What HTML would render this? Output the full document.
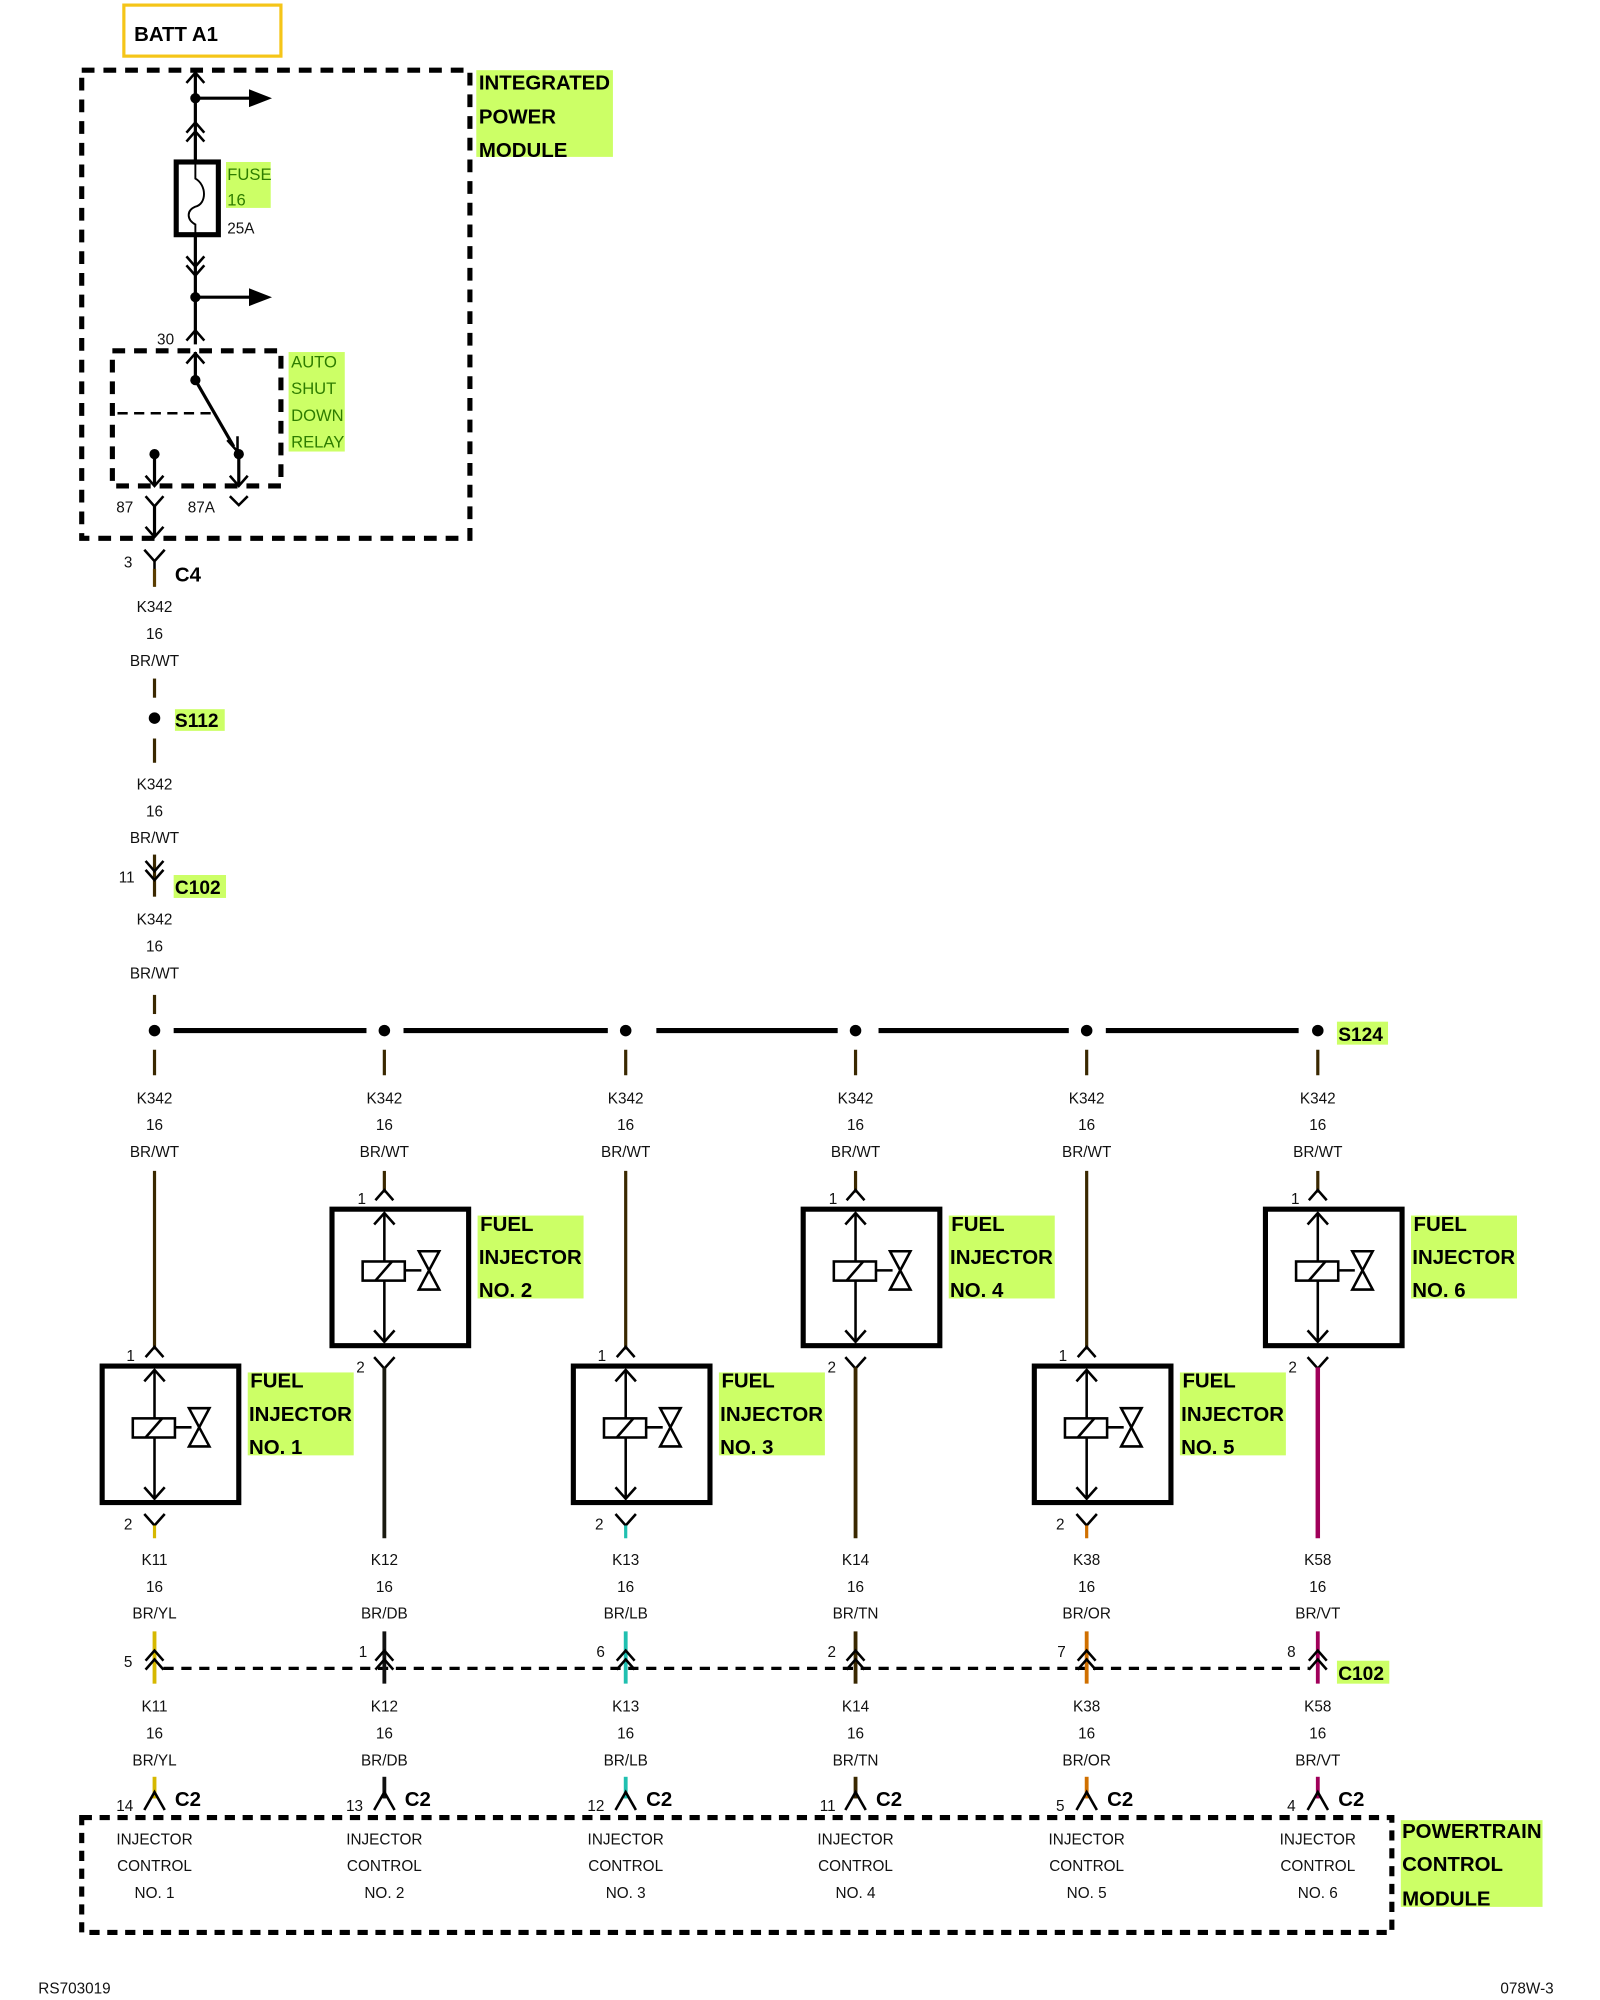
<!DOCTYPE html>
<html><head><meta charset="utf-8"><style>
html,body{margin:0;padding:0;background:#fff;width:1600px;height:2000px;overflow:hidden}
svg{display:block}
text{font-family:"Liberation Sans",Arial,sans-serif}
.w{font-size:12px;text-anchor:middle;fill:#111}
.n{font-size:12px;fill:#111}
.b{font-size:16px;font-weight:bold;fill:#000}
.g{font-size:13px;fill:#2e7d00}
</style></head><body>
<svg width="1600" height="2000" viewBox="0 0 1253 1568" preserveAspectRatio="none" xmlns="http://www.w3.org/2000/svg">
<defs>
<g id="inj">
<rect x="-41" y="0" width="107" height="107" fill="#fff" stroke="#000" stroke-width="4"/>
<line x1="0" y1="3" x2="0" y2="104" stroke="#000" stroke-width="2"/>
<path d="M-8,12 L0,3 L8,12 M-8,95 L0,104 L8,95" fill="none" stroke="#000" stroke-width="2"/>
<rect x="-17" y="41" width="33" height="15" fill="#fff" stroke="#000" stroke-width="2"/>
<line x1="-7" y1="56" x2="6" y2="41" stroke="#000" stroke-width="2"/>
<line x1="16" y1="48" x2="29" y2="48" stroke="#000" stroke-width="2"/>
<path d="M27,33 L43,33 L27,63 L43,63 Z" fill="#fff" stroke="#000" stroke-width="2"/>
</g>
<path id="up" d="M-7,8 L0,0 L7,8" fill="none" stroke="#000" stroke-width="2"/>
<path id="dn" d="M-7,-8 L0,0 L7,-8" fill="none" stroke="#000" stroke-width="2"/>
</defs>

<rect x="97" y="4" width="123" height="40" fill="#fff" stroke="#f5c518" stroke-width="2.5"/>
<text x="105" y="32" class="b">BATT A1</text>

<rect x="64" y="55" width="304" height="367" fill="none" stroke="#000" stroke-width="4" stroke-dasharray="10,7"/>
<rect x="373" y="55" width="107" height="68" fill="#ccff66"/>
<text x="375" y="70" class="b">INTEGRATED</text>
<text x="375" y="97" class="b">POWER</text>
<text x="375" y="123" class="b">MODULE</text>

<line x1="153" y1="56" x2="153" y2="270" stroke="#000" stroke-width="2.5"/>
<use href="#up" x="153" y="57"/>
<circle cx="153" cy="77" r="4"/>
<line x1="153" y1="77" x2="198" y2="77" stroke="#000" stroke-width="2.5"/>
<path d="M195,70 L213,77 L195,84 Z"/>
<use href="#up" x="153" y="96"/><use href="#up" x="153" y="103"/>
<rect x="138" y="127" width="33" height="57" fill="#fff" stroke="#000" stroke-width="4"/>
<path d="M153,127 L153,140 C162,145 162,160 153,162 C146,165 146,172 153,176 L153,184" fill="none" stroke="#000" stroke-width="1.5"/>
<rect x="177" y="127" width="35" height="36" fill="#ccff66"/>
<text x="178" y="141" class="g">FUSE</text>
<text x="178" y="161" class="g">16</text>
<text x="178" y="183" class="n">25A</text>
<use href="#dn" x="153" y="209"/><use href="#dn" x="153" y="216"/>
<circle cx="153" cy="233" r="4"/>
<line x1="153" y1="233" x2="198" y2="233" stroke="#000" stroke-width="2.5"/>
<path d="M195,226 L213,233 L195,240 Z"/>
<use href="#up" x="153" y="259"/>
<text x="123" y="270" class="n">30</text>

<rect x="88" y="275" width="132" height="106" fill="none" stroke="#000" stroke-width="4" stroke-dasharray="10,7"/>
<line x1="153" y1="276" x2="153" y2="298" stroke="#000" stroke-width="2.5"/>
<use href="#up" x="153" y="277"/>
<circle cx="153" cy="298" r="4"/>
<line x1="153" y1="298" x2="183" y2="350" stroke="#000" stroke-width="2.5"/>
<path d="M178,345 L186,354 L186,342" fill="none" stroke="#000" stroke-width="2"/>
<line x1="92" y1="324" x2="170" y2="324" stroke="#000" stroke-width="2" stroke-dasharray="8,5"/>
<circle cx="121" cy="356" r="4"/><circle cx="187" cy="356" r="4"/>
<line x1="121" y1="356" x2="121" y2="380" stroke="#000" stroke-width="2.5"/>
<line x1="187" y1="356" x2="187" y2="380" stroke="#000" stroke-width="2.5"/>
<use href="#dn" x="121" y="381"/><use href="#dn" x="187" y="381"/>
<rect x="226" y="276" width="44" height="78" fill="#ccff66"/>
<text x="228" y="288" class="g">AUTO</text>
<text x="228" y="309" class="g">SHUT</text>
<text x="228" y="330" class="g">DOWN</text>
<text x="228" y="351" class="g">RELAY</text>
<path d="M114,389 L121,397 L128,389" fill="none" stroke="#000" stroke-width="2"/>
<path d="M180,389 L187,396 L194,389" fill="none" stroke="#000" stroke-width="2"/>
<line x1="121" y1="397" x2="121" y2="421" stroke="#000" stroke-width="2.5"/>
<use href="#dn" x="121" y="421"/>
<text x="91" y="402" class="n">87</text>
<text x="147" y="402" class="n">87A</text>

<path d="M113,431 L121,440 L129,431 M121,440 L121,460" fill="none" stroke="#000" stroke-width="2"/>
<line x1="121" y1="446" x2="121" y2="460" stroke="#5a3d00" stroke-width="2.5"/>
<text x="97" y="445" class="n">3</text>
<text x="137" y="456" class="b">C4</text>
<text x="121" y="480" class="w">K342</text><text x="121" y="501" class="w">16</text><text x="121" y="522" class="w">BR/WT</text>
<line x1="121" y1="532" x2="121" y2="547" stroke="#3a2800" stroke-width="2.5"/>
<circle cx="121" cy="563" r="4.5"/>
<rect x="137" y="556" width="39" height="17" fill="#ccff66"/>
<text x="137" y="570" class="b" style="font-size:15px">S112</text>
<line x1="121" y1="579" x2="121" y2="598" stroke="#3a2800" stroke-width="2.5"/>
<text x="121" y="619" class="w">K342</text><text x="121" y="640" class="w">16</text><text x="121" y="661" class="w">BR/WT</text>
<line x1="121" y1="670" x2="121" y2="703" stroke="#3a2800" stroke-width="2.5"/>
<use href="#dn" x="121" y="683"/><use href="#dn" x="121" y="690"/>
<text x="93" y="692" class="n">11</text>
<rect x="136" y="686" width="41" height="18" fill="#ccff66"/>
<text x="137" y="701" class="b" style="font-size:15px">C102</text>
<text x="121" y="725" class="w">K342</text><text x="121" y="746" class="w">16</text><text x="121" y="767" class="w">BR/WT</text>
<line x1="121" y1="780" x2="121" y2="795" stroke="#3a2800" stroke-width="2.5"/>

<g stroke="#000" stroke-width="4">
<line x1="136" y1="808" x2="287" y2="808"/>
<line x1="316" y1="808" x2="476" y2="808"/>
<line x1="514" y1="808" x2="656" y2="808"/>
<line x1="688" y1="808" x2="837" y2="808"/>
<line x1="866" y1="808" x2="1017" y2="808"/>
</g>
<g>
<circle cx="121" cy="808" r="4.5"/><circle cx="301" cy="808" r="4.5"/><circle cx="490" cy="808" r="4.5"/>
<circle cx="670" cy="808" r="4.5"/><circle cx="851" cy="808" r="4.5"/><circle cx="1032" cy="808" r="4.5"/>
</g>
<rect x="1047" y="801" width="40" height="18" fill="#ccff66"/>
<text x="1048" y="816" class="b" style="font-size:15px">S124</text>

<g stroke="#3a2800" stroke-width="2.5">
<line x1="121" y1="823" x2="121" y2="843"/><line x1="301" y1="823" x2="301" y2="843"/>
<line x1="490" y1="823" x2="490" y2="843"/><line x1="670" y1="823" x2="670" y2="843"/>
<line x1="851" y1="823" x2="851" y2="843"/><line x1="1032" y1="823" x2="1032" y2="843"/>
</g>
<g>
<text x="121" y="865" class="w">K342</text><text x="121" y="886" class="w">16</text><text x="121" y="907" class="w">BR/WT</text>
<text x="301" y="865" class="w">K342</text><text x="301" y="886" class="w">16</text><text x="301" y="907" class="w">BR/WT</text>
<text x="490" y="865" class="w">K342</text><text x="490" y="886" class="w">16</text><text x="490" y="907" class="w">BR/WT</text>
<text x="670" y="865" class="w">K342</text><text x="670" y="886" class="w">16</text><text x="670" y="907" class="w">BR/WT</text>
<text x="851" y="865" class="w">K342</text><text x="851" y="886" class="w">16</text><text x="851" y="907" class="w">BR/WT</text>
<text x="1032" y="865" class="w">K342</text><text x="1032" y="886" class="w">16</text><text x="1032" y="907" class="w">BR/WT</text>
</g>

<g stroke="#3a2800" stroke-width="2.5">
<line x1="121" y1="918" x2="121" y2="1058"/><line x1="490" y1="918" x2="490" y2="1058"/><line x1="851" y1="918" x2="851" y2="1058"/>
</g>
<use href="#up" x="121" y="1056"/><use href="#up" x="490" y="1056"/><use href="#up" x="851" y="1056"/>
<text x="99" y="1067" class="n">1</text><text x="468" y="1067" class="n">1</text><text x="829" y="1067" class="n">1</text>
<use href="#inj" x="121" y="1071"/><use href="#inj" x="490" y="1071"/><use href="#inj" x="851" y="1071"/>
<g fill="none" stroke="#000" stroke-width="2">
<path d="M113,1187 L121,1196 L129,1187 M121,1196 L121,1200"/>
<path d="M482,1187 L490,1196 L498,1187 M490,1196 L490,1200"/>
<path d="M843,1187 L851,1196 L859,1187 M851,1196 L851,1200"/>
</g>
<line x1="121" y1="1196" x2="121" y2="1206" stroke="#d6b800" stroke-width="2.5"/>
<line x1="490" y1="1196" x2="490" y2="1206" stroke="#20c0b0" stroke-width="2.5"/>
<line x1="851" y1="1196" x2="851" y2="1206" stroke="#d07000" stroke-width="2.5"/>
<text x="97" y="1199" class="n">2</text><text x="466" y="1199" class="n">2</text><text x="827" y="1199" class="n">2</text>
<rect x="194" y="1076" width="83" height="65" fill="#ccff66"/>
<text x="196" y="1088" class="b">FUEL</text><text x="195" y="1114" class="b">INJECTOR</text><text x="195" y="1140" class="b">NO. 1</text>
<rect x="563" y="1076" width="83" height="65" fill="#ccff66"/>
<text x="565" y="1088" class="b">FUEL</text><text x="564" y="1114" class="b">INJECTOR</text><text x="564" y="1140" class="b">NO. 3</text>
<rect x="924" y="1076" width="83" height="65" fill="#ccff66"/>
<text x="926" y="1088" class="b">FUEL</text><text x="925" y="1114" class="b">INJECTOR</text><text x="925" y="1140" class="b">NO. 5</text>

<g stroke="#3a2800" stroke-width="2.5">
<line x1="301" y1="918" x2="301" y2="935"/><line x1="670" y1="918" x2="670" y2="935"/><line x1="1032" y1="918" x2="1032" y2="935"/>
</g>
<use href="#up" x="301" y="933"/><use href="#up" x="670" y="933"/><use href="#up" x="1032" y="933"/>
<text x="280" y="944" class="n">1</text><text x="649" y="944" class="n">1</text><text x="1011" y="944" class="n">1</text>
<use href="#inj" x="301" y="948"/><use href="#inj" x="670" y="948"/><use href="#inj" x="1032" y="948"/>
<g fill="none" stroke="#000" stroke-width="2">
<path d="M293,1064 L301,1073 L309,1064"/><path d="M662,1064 L670,1073 L678,1064"/><path d="M1024,1064 L1032,1073 L1040,1064"/>
</g>
<line x1="301" y1="1072" x2="301" y2="1206" stroke="#1a1a10" stroke-width="3"/>
<line x1="670" y1="1072" x2="670" y2="1206" stroke="#3a2800" stroke-width="3"/>
<line x1="1032" y1="1072" x2="1032" y2="1206" stroke="#a0005a" stroke-width="3.5"/>
<text x="279" y="1076" class="n">2</text><text x="648" y="1076" class="n">2</text><text x="1009" y="1076" class="n">2</text>
<rect x="374" y="953" width="83" height="65" fill="#ccff66"/>
<text x="376" y="965" class="b">FUEL</text><text x="375" y="991" class="b">INJECTOR</text><text x="375" y="1017" class="b">NO. 2</text>
<rect x="743" y="953" width="83" height="65" fill="#ccff66"/>
<text x="745" y="965" class="b">FUEL</text><text x="744" y="991" class="b">INJECTOR</text><text x="744" y="1017" class="b">NO. 4</text>
<rect x="1105" y="953" width="83" height="65" fill="#ccff66"/>
<text x="1107" y="965" class="b">FUEL</text><text x="1106" y="991" class="b">INJECTOR</text><text x="1106" y="1017" class="b">NO. 6</text>

<g>
<text x="121" y="1227" class="w">K11</text><text x="121" y="1248" class="w">16</text><text x="121" y="1269" class="w">BR/YL</text>
<text x="301" y="1227" class="w">K12</text><text x="301" y="1248" class="w">16</text><text x="301" y="1269" class="w">BR/DB</text>
<text x="490" y="1227" class="w">K13</text><text x="490" y="1248" class="w">16</text><text x="490" y="1269" class="w">BR/LB</text>
<text x="670" y="1227" class="w">K14</text><text x="670" y="1248" class="w">16</text><text x="670" y="1269" class="w">BR/TN</text>
<text x="851" y="1227" class="w">K38</text><text x="851" y="1248" class="w">16</text><text x="851" y="1269" class="w">BR/OR</text>
<text x="1032" y="1227" class="w">K58</text><text x="1032" y="1248" class="w">16</text><text x="1032" y="1269" class="w">BR/VT</text>
</g>

<line x1="128" y1="1308" x2="1025" y2="1308" stroke="#000" stroke-width="2.5" stroke-dasharray="8,6"/>
<g stroke-width="3">
<line x1="121" y1="1279" x2="121" y2="1320" stroke="#d6b800"/>
<line x1="301" y1="1279" x2="301" y2="1320" stroke="#111"/>
<line x1="490" y1="1279" x2="490" y2="1320" stroke="#20c0b0"/>
<line x1="670" y1="1279" x2="670" y2="1320" stroke="#3a2800"/>
<line x1="851" y1="1279" x2="851" y2="1320" stroke="#d07000"/>
<line x1="1032" y1="1279" x2="1032" y2="1320" stroke="#a0005a"/>
</g>
<g>
<use href="#up" x="121" y="1294"/><use href="#up" x="121" y="1301"/>
<use href="#up" x="301" y="1294"/><use href="#up" x="301" y="1301"/>
<use href="#up" x="490" y="1294"/><use href="#up" x="490" y="1301"/>
<use href="#up" x="670" y="1294"/><use href="#up" x="670" y="1301"/>
<use href="#up" x="851" y="1294"/><use href="#up" x="851" y="1301"/>
<use href="#up" x="1032" y="1294"/><use href="#up" x="1032" y="1301"/>
</g>
<text x="97" y="1307" class="n">5</text><text x="281" y="1299" class="n">1</text><text x="467" y="1299" class="n">6</text>
<text x="648" y="1299" class="n">2</text><text x="828" y="1299" class="n">7</text><text x="1008" y="1299" class="n">8</text>
<rect x="1047" y="1302" width="41" height="18" fill="#ccff66"/>
<text x="1048" y="1317" class="b" style="font-size:15px">C102</text>
<g>
<text x="121" y="1342" class="w">K11</text><text x="121" y="1363" class="w">16</text><text x="121" y="1384" class="w">BR/YL</text>
<text x="301" y="1342" class="w">K12</text><text x="301" y="1363" class="w">16</text><text x="301" y="1384" class="w">BR/DB</text>
<text x="490" y="1342" class="w">K13</text><text x="490" y="1363" class="w">16</text><text x="490" y="1384" class="w">BR/LB</text>
<text x="670" y="1342" class="w">K14</text><text x="670" y="1363" class="w">16</text><text x="670" y="1384" class="w">BR/TN</text>
<text x="851" y="1342" class="w">K38</text><text x="851" y="1363" class="w">16</text><text x="851" y="1384" class="w">BR/OR</text>
<text x="1032" y="1342" class="w">K58</text><text x="1032" y="1363" class="w">16</text><text x="1032" y="1384" class="w">BR/VT</text>
</g>

<g stroke-width="3">
<line x1="121" y1="1393" x2="121" y2="1410" stroke="#d6b800"/>
<line x1="301" y1="1393" x2="301" y2="1410" stroke="#111"/>
<line x1="490" y1="1393" x2="490" y2="1410" stroke="#20c0b0"/>
<line x1="670" y1="1393" x2="670" y2="1410" stroke="#3a2800"/>
<line x1="851" y1="1393" x2="851" y2="1410" stroke="#d07000"/>
<line x1="1032" y1="1393" x2="1032" y2="1410" stroke="#a0005a"/>
</g>
<g fill="none" stroke="#000" stroke-width="2">
<path d="M113,1419 L121,1405 L129,1419"/><path d="M293,1419 L301,1405 L309,1419"/><path d="M482,1419 L490,1405 L498,1419"/>
<path d="M662,1419 L670,1405 L678,1419"/><path d="M843,1419 L851,1405 L859,1419"/><path d="M1024,1419 L1032,1405 L1040,1419"/>
</g>
<text x="91" y="1420" class="n">14</text><text x="271" y="1420" class="n">13</text><text x="460" y="1420" class="n">12</text>
<text x="642" y="1420" class="n">11</text><text x="827" y="1420" class="n">5</text><text x="1008" y="1420" class="n">4</text>
<text x="137" y="1416" class="b">C2</text><text x="317" y="1416" class="b">C2</text><text x="506" y="1416" class="b">C2</text>
<text x="686" y="1416" class="b">C2</text><text x="867" y="1416" class="b">C2</text><text x="1048" y="1416" class="b">C2</text>

<rect x="64" y="1425" width="1026" height="90" fill="none" stroke="#000" stroke-width="4" stroke-dasharray="8,6"/>
<g>
<text x="121" y="1446" class="w">INJECTOR</text><text x="121" y="1467" class="w">CONTROL</text><text x="121" y="1488" class="w">NO. 1</text>
<text x="301" y="1446" class="w">INJECTOR</text><text x="301" y="1467" class="w">CONTROL</text><text x="301" y="1488" class="w">NO. 2</text>
<text x="490" y="1446" class="w">INJECTOR</text><text x="490" y="1467" class="w">CONTROL</text><text x="490" y="1488" class="w">NO. 3</text>
<text x="670" y="1446" class="w">INJECTOR</text><text x="670" y="1467" class="w">CONTROL</text><text x="670" y="1488" class="w">NO. 4</text>
<text x="851" y="1446" class="w">INJECTOR</text><text x="851" y="1467" class="w">CONTROL</text><text x="851" y="1488" class="w">NO. 5</text>
<text x="1032" y="1446" class="w">INJECTOR</text><text x="1032" y="1467" class="w">CONTROL</text><text x="1032" y="1488" class="w">NO. 6</text>
</g>
<rect x="1097" y="1427" width="111" height="68" fill="#ccff66"/>
<text x="1098" y="1441" class="b">POWERTRAIN</text><text x="1098" y="1467" class="b">CONTROL</text><text x="1098" y="1494" class="b">MODULE</text>

<text x="30" y="1563" class="n">RS703019</text>
<text x="1175" y="1563" class="n">078W-3</text>
</svg>
</body></html>
